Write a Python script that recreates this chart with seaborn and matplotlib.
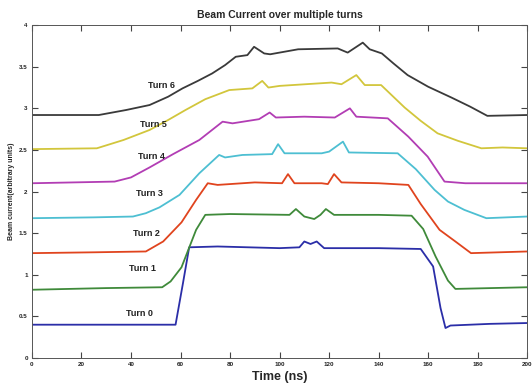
import pandas as pd
import seaborn as sns
from matplotlib import pyplot as plt

# Time (ns) / beam current (arbitrary units)
turn0_t = [0, 30, 58, 61, 63.5, 75, 100, 108, 110, 112.5, 115, 118, 140, 157, 162, 165, 167, 169, 185, 200]
turn0_y = [0.40, 0.40, 0.40, 0.90, 1.33, 1.34, 1.32, 1.33, 1.40, 1.37, 1.40, 1.32, 1.32, 1.31, 1.10, 0.60, 0.36, 0.39, 0.41, 0.42]

turn1_t = [0, 30, 52.6, 56, 60.4, 66.3, 70, 80, 104, 106.6, 110, 114, 116.5, 118.7, 122, 140, 153.3, 158, 163, 168, 171, 200]
turn1_y = [0.82, 0.84, 0.85, 0.92, 1.09, 1.54, 1.72, 1.73, 1.72, 1.79, 1.70, 1.67, 1.72, 1.79, 1.72, 1.72, 1.71, 1.55, 1.22, 0.93, 0.83, 0.85]

turn2_t = [0, 25, 46, 53, 60.4, 66.3, 71, 75, 90, 101, 103.4, 106, 117, 119.5, 122, 125, 140, 152, 157, 164.6, 171, 177.3, 200]
turn2_y = [1.26, 1.27, 1.28, 1.40, 1.63, 1.90, 2.10, 2.08, 2.11, 2.10, 2.21, 2.10, 2.10, 2.09, 2.21, 2.11, 2.10, 2.08, 1.85, 1.54, 1.40, 1.26, 1.28]

turn3_t = [0, 25, 40.8, 46, 51.5, 59.6, 67.6, 75.6, 78, 85, 97, 99.4, 102, 117, 120, 125.6, 128, 147.7, 155, 162.6, 168, 174.6, 183.5, 200]
turn3_y = [1.68, 1.69, 1.70, 1.74, 1.81, 1.96, 2.22, 2.44, 2.41, 2.44, 2.45, 2.57, 2.46, 2.46, 2.48, 2.60, 2.47, 2.46, 2.27, 2.02, 1.88, 1.78, 1.68, 1.70]

turn4_t = [0, 33.4, 40, 47.5, 57, 67.6, 77, 81, 91.7, 96, 98.5, 110, 122.3, 128.4, 131, 143.7, 152, 159.8, 166.6, 175, 200]
turn4_y = [2.10, 2.12, 2.17, 2.29, 2.45, 2.62, 2.84, 2.82, 2.87, 2.95, 2.89, 2.90, 2.89, 3.00, 2.90, 2.88, 2.66, 2.42, 2.12, 2.10, 2.10]

turn5_t = [0, 26.2, 37, 47.5, 55, 62, 70, 79.7, 89, 93, 95.5, 100, 121, 125, 131, 134.4, 141, 150.5, 157, 163.8, 172, 181.5, 190, 200]
turn5_y = [2.51, 2.52, 2.62, 2.74, 2.86, 2.98, 3.11, 3.22, 3.24, 3.33, 3.25, 3.27, 3.31, 3.29, 3.40, 3.28, 3.28, 3.01, 2.85, 2.70, 2.61, 2.52, 2.53, 2.52]

turn6_t = [0, 27, 38, 47.5, 55, 60.8, 67, 72.8, 78, 82.3, 87, 89.7, 93.8, 96.2, 107.5, 123.5, 127.5, 133.6, 136.4, 141.3, 146, 151.7, 160, 169.4, 177, 183.9, 200]
turn6_y = [2.92, 2.92, 2.98, 3.04, 3.14, 3.24, 3.33, 3.42, 3.52, 3.62, 3.64, 3.74, 3.66, 3.65, 3.71, 3.72, 3.67, 3.79, 3.71, 3.66, 3.54, 3.40, 3.26, 3.13, 3.02, 2.91, 2.92]

turn_names = ["Turn 0", "Turn 1", "Turn 2", "Turn 3", "Turn 4", "Turn 5", "Turn 6"]
label_x = [43.5, 44.7, 46.3, 47.5, 48.3, 49.1, 52.3]
label_y = [0.54, 1.07, 1.50, 1.98, 2.42, 2.81, 3.27]
turn_colors = ["#2b2ea8", "#3f8a3a", "#e0441e", "#4dbfd2", "#b23db4", "#d2c63c", "#3a3a3a"]

series = [(turn0_t, turn0_y), (turn1_t, turn1_y), (turn2_t, turn2_y), (turn3_t, turn3_y),
          (turn4_t, turn4_y), (turn5_t, turn5_y), (turn6_t, turn6_y)]
rows = []
for name, (ts, ys) in zip(turn_names, series):
    for t, y in zip(ts, ys):
        rows.append({"time": t, "current": y, "turn": name})
data = pd.DataFrame(rows)

sns.set_style("ticks")
plt.rcParams["font.family"] = ["Liberation Sans", "DejaVu Sans"]

fig = plt.figure(figsize=(5.32, 3.87), dpi=100)
ax = fig.add_axes([0.060, 0.075, 0.931, 0.860])

sns.lineplot(data=data, x="time", y="current", hue="turn", palette=dict(zip(turn_names, turn_colors)),
             linewidth=1.3, legend=False, ax=ax, sort=False)

for name, x, y in zip(turn_names, label_x, label_y):
    ax.text(x, y, name, ha="center", va="center", fontsize=6.5, fontweight="bold", color="#222222")

ax.set_xlim(0, 200)
ax.set_ylim(0, 4)
ax.set_xticks(range(0, 201, 20))
ax.set_yticks([0, 0.5, 1, 1.5, 2, 2.5, 3, 3.5, 4])
ax.set_yticklabels(["0", "0.5", "1", "1.5", "2", "2.5", "3", "3.5", "4"])
ax.tick_params(direction="in", top=True, right=True, labelsize=4.5, length=4, width=0.8,
               pad=3, color="#444444", labelcolor="#222222")
for lab in ax.get_xticklabels() + ax.get_yticklabels():
    lab.set_fontweight("bold")
for sp in ax.spines.values():
    sp.set_linewidth(0.7)
    sp.set_color("#555555")

ax.set_title("Beam Current over multiple turns", fontsize=7.5, fontweight="bold", pad=5)
ax.set_xlabel("Time (ns)", fontsize=9, fontweight="bold", labelpad=3)
ax.set_ylabel("Beam current(arbitrary units)", fontsize=5, fontweight="bold", labelpad=3)

fig.savefig("out.png", dpi=100)
